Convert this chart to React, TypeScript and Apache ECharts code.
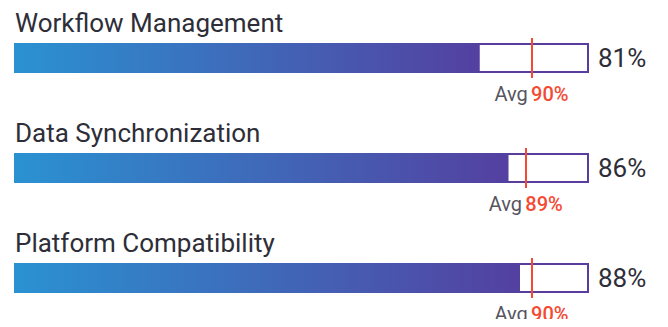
import React, { useEffect, useRef } from "react";
import * as echarts from "echarts";

const categories = ["Workflow Management", "Data Synchronization", "Platform Compatibility"];
const values = [81, 86, 88];
const averages = [90, 89, 90];

const FONT = "Roboto";

export default function App() {
  const ref = useRef<HTMLDivElement>(null);
  useEffect(() => {
    if (!ref.current) return;
    const chart = echarts.init(ref.current, null, { renderer: "svg" });
    const grids: any[] = [];
    const xAxes: any[] = [];
    const yAxes: any[] = [];
    const series: any[] = [];
    const titles: any[] = [];
    categories.forEach((cat, i) => {
      grids.push({ left: 14, right: 79, top: 38 + 110 * i, height: 40 });
      xAxes.push({ gridIndex: i, type: "value", min: 0, max: 100, show: false });
      yAxes.push({ gridIndex: i, type: "category", data: [cat], show: false });
      titles.push({
        text: cat,
        left: 10,
        top: 5 + 110 * i,
        textStyle: { fontFamily: FONT, fontSize: 26, fontWeight: "normal", color: "#2e2e38" },
      });
      series.push({
        type: "bar",
        xAxisIndex: i,
        yAxisIndex: i,
        data: [100],
        barWidth: 30,
        barGap: "-100%",
        silent: true,
        itemStyle: { color: "#ffffff", borderColor: "#5a3c9e", borderWidth: 2 },
        label: {
          show: true,
          position: "right",
          distance: 9,
          formatter: () => `${values[i]}%`,
          fontFamily: FONT,
          fontSize: 26,
          color: "#2e2e38",
        },
        z: 2,
      });
      series.push({
        type: "bar",
        xAxisIndex: i,
        yAxisIndex: i,
        data: [values[i]],
        barWidth: 30,
        barGap: "-100%",
        silent: true,
        itemStyle: {
          color: new echarts.graphic.LinearGradient(0, 0, 1, 0, [
            { offset: 0, color: "#2a92d2" },
            { offset: 1, color: "#5440a0" },
          ]),
        },
        z: 3,
        markLine: {
          silent: true,
          symbol: "none",
          data: [{ xAxis: averages[i] }],
          lineStyle: { color: "#f44a33", width: 2, type: "solid" },
          label: {
            show: true,
            position: "start",
            distance: 6,
            formatter: () => `{a|Avg} {b|${averages[i]}%}`,
            rich: {
              a: { fontFamily: FONT, fontSize: 20, color: "#55555f" },
              b: { fontFamily: FONT, fontSize: 20, color: "#f44a33", fontWeight: 500 },
            },
          },
          z: 5,
        },
      });
    });
    chart.setOption({
      animation: false,
      title: titles,
      grid: grids,
      xAxis: xAxes,
      yAxis: yAxes,
      series,
    });
    return () => chart.dispose();
  }, []);
  return <div ref={ref} style={{ width: 668, height: 327, margin: -8 }} />;
}
